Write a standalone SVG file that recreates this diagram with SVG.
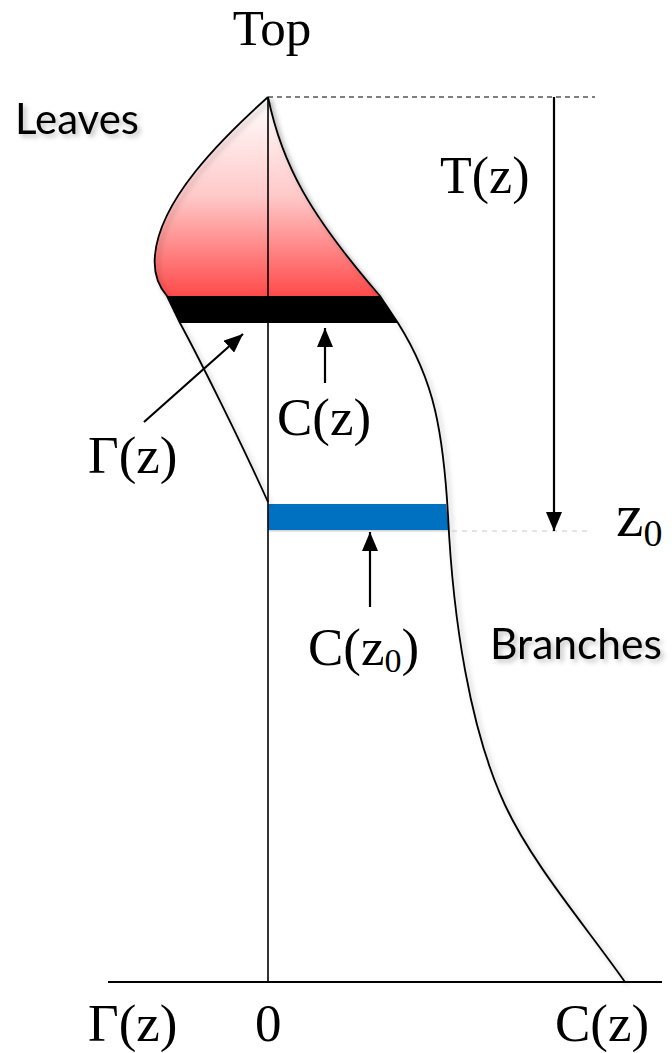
<svg xmlns="http://www.w3.org/2000/svg" width="672" height="1053" viewBox="0 0 672 1053">
<style>
.ser{font-family:"Liberation Serif","Times New Roman",serif;fill:#000}
.san{font-family:Lato,"Open Sans","Liberation Sans",sans-serif;fill:#000}
.ol{fill:none;stroke:#000;stroke-width:1.8;stroke-linejoin:round}
.arr{fill:none;stroke:#000;stroke-width:2.2}
</style>
<defs>
<linearGradient id="red" x1="0" y1="97" x2="0" y2="296" gradientUnits="userSpaceOnUse">
<stop offset="0" stop-color="#ffffff"/>
<stop offset="0.5" stop-color="#ffc8c8"/>
<stop offset="1" stop-color="#ff4a4a"/>
</linearGradient>
<filter id="sh" x="-20%" y="-20%" width="140%" height="140%">
<feDropShadow dx="3" dy="3" stdDeviation="2.5" flood-color="#000" flood-opacity="0.25"/>
</filter>
<filter id="sh2" x="-10%" y="-10%" width="120%" height="130%">
<feDropShadow dx="0" dy="1" stdDeviation="1.2" flood-color="#000" flood-opacity="0.25"/>
</filter>
<marker id="ah" markerUnits="userSpaceOnUse" markerWidth="20" markerHeight="16" refX="19" refY="8" orient="auto">
<path d="M0,0 L19,8 L0,16 Z" fill="#000"/>
</marker>
</defs>
<g id="crown">
<path d="M268,97 C282,165 310,215 380,296 L167,296 C162,290 153,275 155,255 C160,200 220,140 268,97 Z" fill="url(#red)" filter="url(#sh)"/>
<path d="M167,296 L380,296 L398,323 L180,323 Z" fill="#000"/>
<path d="M268,504 L446,504 L449,530 L268,530 Z" fill="#0070c0" filter="url(#sh2)"/>
<path class="ol" filter="url(#sh)" d="M268,97 C220,140 160,200 155,255 C153,275 160,288 167,296 L180,323 C200,360 240,440 268,502"/>
<path class="ol" filter="url(#sh)" d="M268,97 C282,165 310,215 380,296 L398,323 C415,350 428,380 435,410 C442,440 446,480 448,515 C453,620 470,730 505,805 C533,865 585,925 625,982"/>
</g>
<g id="axes">
<line x1="268" y1="97" x2="268" y2="982" stroke="#000" stroke-width="1.6"/>
<line x1="108" y1="982" x2="662" y2="982" stroke="#000" stroke-width="1.8"/>
<line x1="268" y1="97" x2="595" y2="97" stroke="#000" stroke-width="1.2" stroke-dasharray="5,4"/>
<line x1="452" y1="531" x2="590" y2="531" stroke="#c8c8c8" stroke-width="1" stroke-dasharray="5,5"/>
</g>
<g id="connectors">
<line class="arr" x1="554" y1="97" x2="554" y2="531" marker-end="url(#ah)"/>
<line class="arr" x1="325" y1="383" x2="325" y2="328" marker-end="url(#ah)"/>
<line class="arr" x1="144" y1="422" x2="243" y2="334" marker-end="url(#ah)"/>
<line class="arr" x1="370" y1="607" x2="370" y2="532" marker-end="url(#ah)"/>
</g>
<g id="labels">
<text class="ser" x="272" y="45" font-size="51" text-anchor="middle">Top</text>
<text class="san" x="15" y="134" font-size="43" textLength="124" lengthAdjust="spacingAndGlyphs" filter="url(#sh)">Leaves</text>
<text class="san" x="490" y="659" font-size="43" textLength="172" lengthAdjust="spacingAndGlyphs" filter="url(#sh)">Branches</text>
<text class="ser" x="440" y="193" font-size="52">T(z)</text>
<text class="ser" x="88" y="473" font-size="53">Γ(z)</text>
<text class="ser" x="277" y="435" font-size="53">C(z)</text>
<text class="ser" x="616" y="536" font-size="62">z<tspan font-size="38" dy="10">0</tspan></text>
<text class="ser" x="308" y="665" font-size="53">C(z<tspan font-size="34" dy="7">0</tspan><tspan dy="-7">)</tspan></text>
<text class="ser" x="88" y="1041" font-size="53">Γ(z)</text>
<text class="ser" x="255" y="1041" font-size="53">0</text>
<text class="ser" x="555" y="1041" font-size="53">C(z)</text>
</g>
</svg>
